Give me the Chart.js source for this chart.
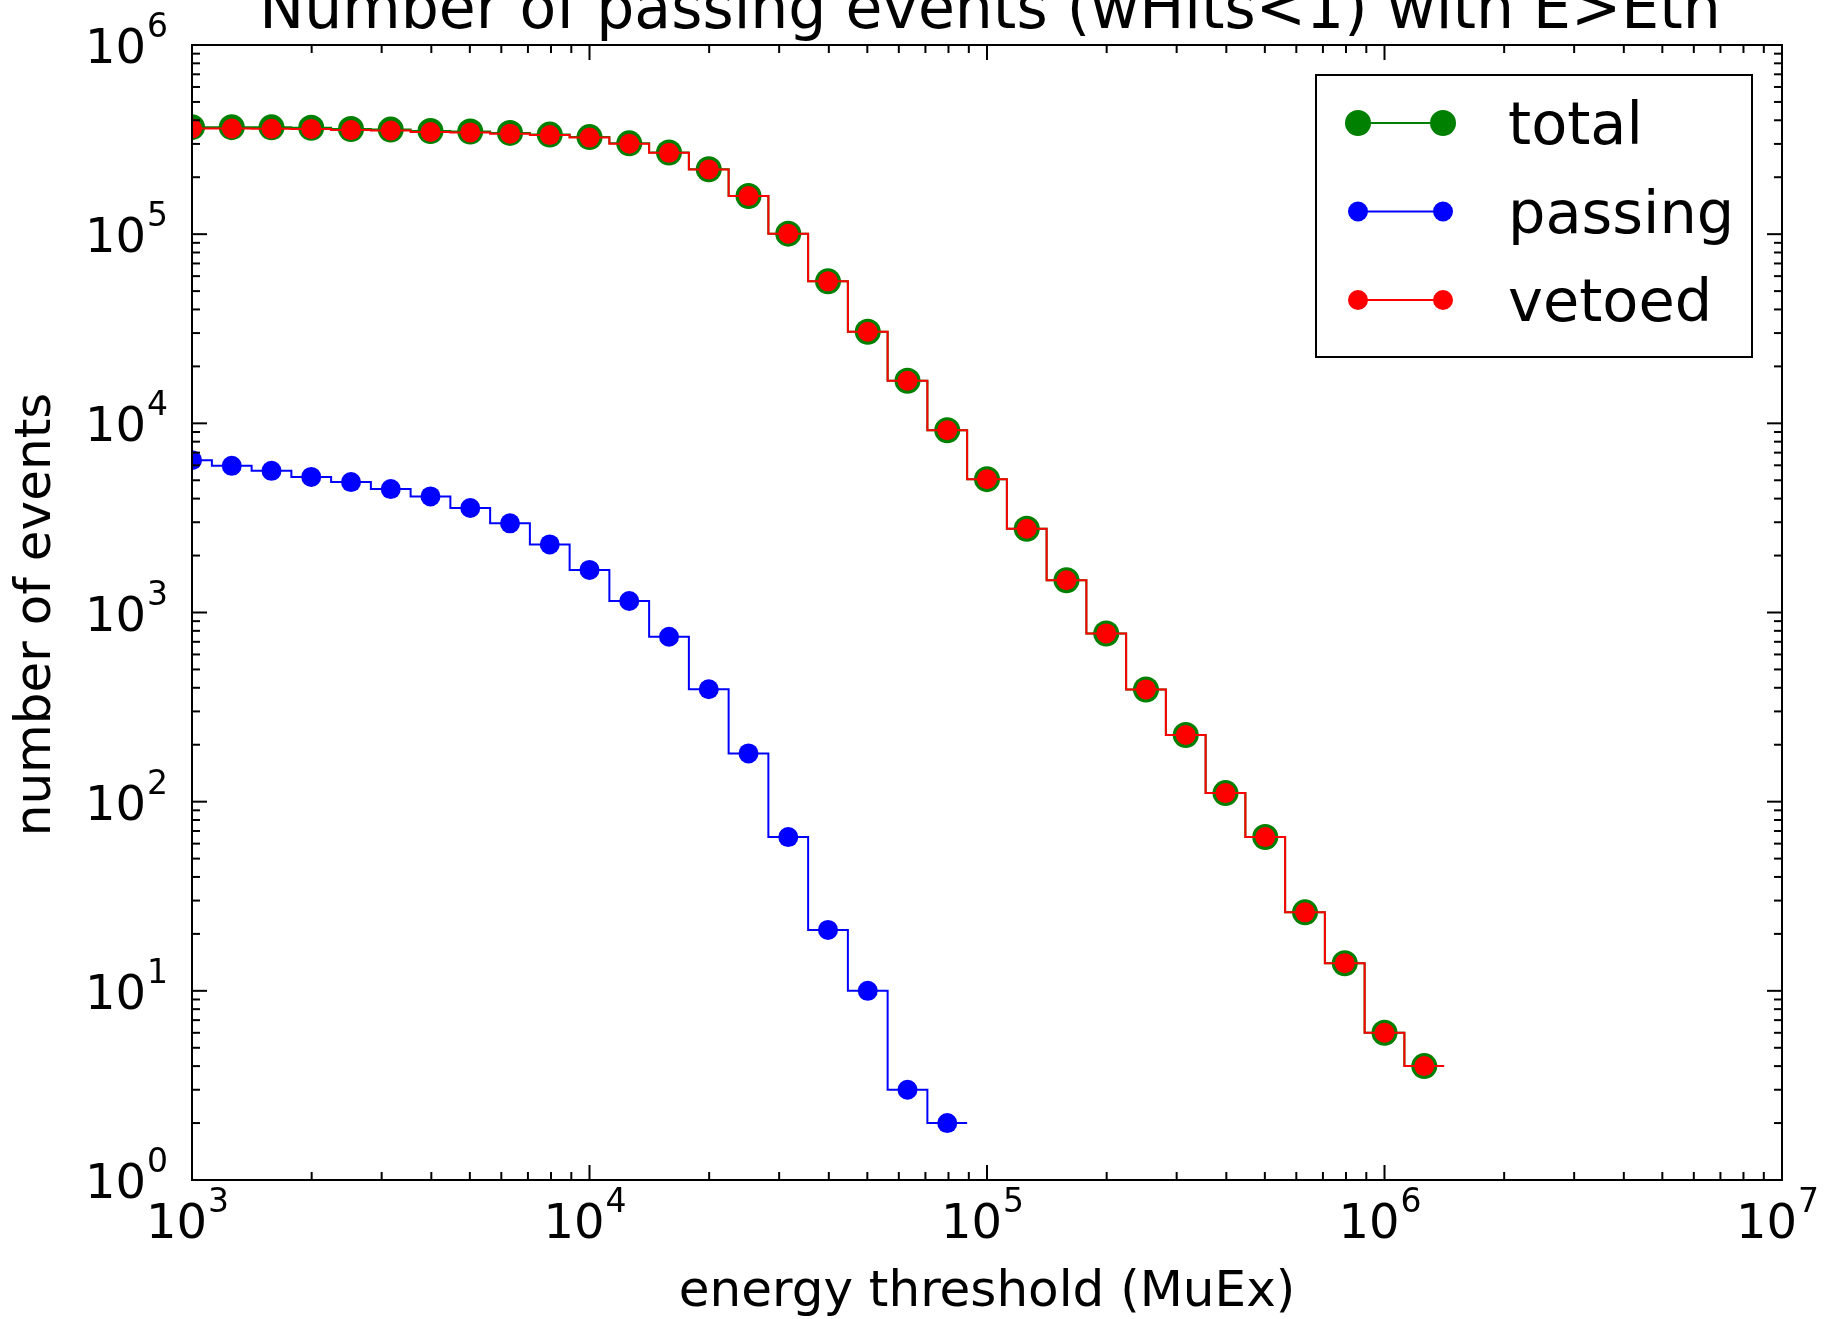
<!DOCTYPE html>
<html>
<head>
<meta charset="utf-8">
<title>Number of passing events</title>
<script src="https://cdn.jsdelivr.net/npm/chart.js@4.4.1/dist/chart.umd.min.js"></script>
<style>
   html, body { margin: 0; padding: 0; background: #fff; }
   canvas { display: block; }
</style>
</head>
<body>
<canvas id="myChart" width="1826" height="1319"></canvas>
<script>
// energy thresholds, 10 bins per decade
const thresholds = [
   1000, 1259, 1585, 1995, 2512, 3162, 3981, 5012, 6310, 7943,
   10000, 12589, 15849, 19953, 25119, 31623, 39811, 50119, 63096, 79433,
   100000, 125893, 158489, 199526, 251189, 316228, 398107, 501187, 630957, 794328,
   1000000, 1258925
];
const totalEvents = [
   368000, 368000, 367000, 365000, 360000, 357000, 351000, 349000, 343000, 336000,
   326000, 302000, 270000, 220400, 159200, 100600, 56320, 30510, 16800, 9200,
   5070, 2770, 1480, 775, 392, 225, 111, 65, 26, 14, 6, 4
];
const passingEvents = [
   6390, 5960, 5610, 5210, 4890, 4490, 4110, 3570, 2960, 2290,
   1680, 1150, 744, 393, 180, 65, 21, 10, 3, 2
];
const vetoedEvents = [
   362000, 362000, 361000, 360000, 355000, 353000, 347000, 345000, 340000, 334000,
   324000, 301000, 269000, 220000, 159000, 100500, 56300, 30500, 16800, 9200,
   5070, 2770, 1480, 775, 392, 225, 111, 65, 26, 14, 6, 4
];
const xDecades = [3, 4, 5, 6, 7];
const yDecades = [0, 1, 2, 3, 4, 5, 6];

const seriesNames = ['total', 'passing', 'vetoed'];
const seriesColors = ['#008000', '#0000ff', '#ff0000'];
const markerSizes = [13, 10, 10];

const FONT = "'DejaVu Sans', 'Bitstream Vera Sans', sans-serif";
const halfBin = Math.pow(10, 0.05);

// histogram style steps: every bin is drawn half a bin either side of its point
function stepPoints(values) {
   const n = values.length;
   const pts = values.map((v, i) => ({ x: thresholds[i], y: v }));
   pts.unshift({ x: thresholds[0] / halfBin, y: values[0] });
   pts.push({ x: thresholds[n - 1] * halfBin, y: values[n - 1] });
   return pts;
}

function radii(values, r) {
   return [0].concat(values.map(() => r), [0]);
}

function makeDataset(idx, values, order) {
   return {
      label: seriesNames[idx],
      data: stepPoints(values),
      stepped: 'middle',
      borderColor: seriesColors[idx],
      borderWidth: 2,
      backgroundColor: seriesColors[idx],
      pointBackgroundColor: seriesColors[idx],
      pointBorderColor: seriesColors[idx],
      pointBorderWidth: 0,
      pointRadius: radii(values, markerSizes[idx]),
      pointHoverRadius: radii(values, markerSizes[idx]),
      fill: false,
      order: order,
   };
}

function drawPower(ctx, exp, x, baseY, align) {
   ctx.font = '48px ' + FONT;
   const wBase = ctx.measureText('10').width;
   ctx.font = '33px ' + FONT;
   const wSup = ctx.measureText(String(exp)).width;
   const w = wBase + wSup;
   let start = x;
   if (align === 'center') start = x - w / 2;
   if (align === 'right') start = x - w;
   ctx.textAlign = 'left';
   ctx.textBaseline = 'alphabetic';
   ctx.font = '48px ' + FONT;
   ctx.fillText('10', start, baseY);
   ctx.font = '33px ' + FONT;
   ctx.fillText(String(exp), start + wBase + 1, baseY - 26);
}

// frame, inward ticks, labels, title and legend on top of the data
const axesDecor = {
   id: 'axesDecor',
   afterDatasetsDraw(chart) {
      const { ctx, chartArea: a, scales } = chart;
      const xs = scales.x, ys = scales.y;
      ctx.save();
      ctx.strokeStyle = '#000';
      ctx.fillStyle = '#000';
      ctx.lineWidth = 2;
      ctx.strokeRect(a.left, a.top, a.right - a.left, a.bottom - a.top);

      const tick = (x1, y1, x2, y2) => {
         ctx.beginPath();
         ctx.moveTo(x1, y1);
         ctx.lineTo(x2, y2);
         ctx.stroke();
      };

      xDecades.forEach((p, i) => {
         const px = xs.getPixelForValue(Math.pow(10, p));
         tick(px, a.bottom, px, a.bottom - 15);
         tick(px, a.top, px, a.top + 15);
         if (i < xDecades.length - 1) {
            for (let m = 2; m <= 9; m++) {
               const mx = xs.getPixelForValue(m * Math.pow(10, p));
               tick(mx, a.bottom, mx, a.bottom - 8);
               tick(mx, a.top, mx, a.top + 8);
            }
         }
         drawPower(ctx, p, px - 5, a.bottom + 58, 'center');
      });

      yDecades.forEach((p, i) => {
         const py = ys.getPixelForValue(Math.pow(10, p));
         tick(a.left, py, a.left + 15, py);
         tick(a.right, py, a.right - 15, py);
         if (i < yDecades.length - 1) {
            for (let m = 2; m <= 9; m++) {
               const my = ys.getPixelForValue(m * Math.pow(10, p));
               tick(a.left, my, a.left + 8, my);
               tick(a.right, my, a.right - 8, my);
            }
         }
         drawPower(ctx, p, a.left - 25, py + 18, 'right');
      });

      // titles
      const cx = (a.left + a.right) / 2;
      ctx.textAlign = 'center';
      ctx.textBaseline = 'alphabetic';
      ctx.font = '60px ' + FONT;
      ctx.fillText('Number of passing events (wHits<1) with E>Eth', cx + 3, 28);
      ctx.font = '50px ' + FONT;
      ctx.fillText('energy threshold (MuEx)', cx, 1306);
      ctx.save();
      ctx.translate(37, (a.top + a.bottom) / 2 + 2);
      ctx.rotate(-Math.PI / 2);
      ctx.textBaseline = 'middle';
      ctx.fillText('number of events', 0, 0);
      ctx.restore();

      // legend box
      const box = { left: 1316, top: 75, right: 1752, bottom: 357 };
      ctx.fillStyle = '#fff';
      ctx.fillRect(box.left, box.top, box.right - box.left, box.bottom - box.top);
      ctx.strokeStyle = '#000';
      ctx.lineWidth = 2;
      ctx.strokeRect(box.left, box.top, box.right - box.left, box.bottom - box.top);
      seriesNames.forEach((name, i) => {
         const ry = 123 + i * 88.5;
         ctx.strokeStyle = seriesColors[i];
         ctx.fillStyle = seriesColors[i];
         ctx.lineWidth = 2;
         tick(1358, ry, 1443, ry);
         [1358, 1443].forEach(mx => {
            ctx.beginPath();
            ctx.arc(mx, ry, markerSizes[i], 0, Math.PI * 2);
            ctx.fill();
         });
         ctx.fillStyle = '#000';
         ctx.textAlign = 'left';
         ctx.textBaseline = 'alphabetic';
         ctx.font = '59px ' + FONT;
         ctx.fillText(name, 1508, ry + 21);
      });
      ctx.restore();
   }
};

var ctx = document.getElementById('myChart');
var myChart = new Chart(ctx, {
   type: 'line',
   data: {
      datasets: [
         makeDataset(0, totalEvents, 3),
         makeDataset(1, passingEvents, 2),
         makeDataset(2, vetoedEvents, 1),
      ],
   },
   options: {
      responsive: false,
      animation: false,
      devicePixelRatio: 1,
      events: [],
      layout: {
         padding: { left: 192, right: 44, top: 45, bottom: 139 }
      },
      scales: {
         x: { type: 'logarithmic', min: 1e3, max: 1e7, display: false },
         y: { type: 'logarithmic', min: 1, max: 1e6, display: false }
      },
      plugins: {
         legend: { display: false },
         tooltip: { enabled: false }
      }
   },
   plugins: [axesDecor],
});
</script>
</body>
</html>
